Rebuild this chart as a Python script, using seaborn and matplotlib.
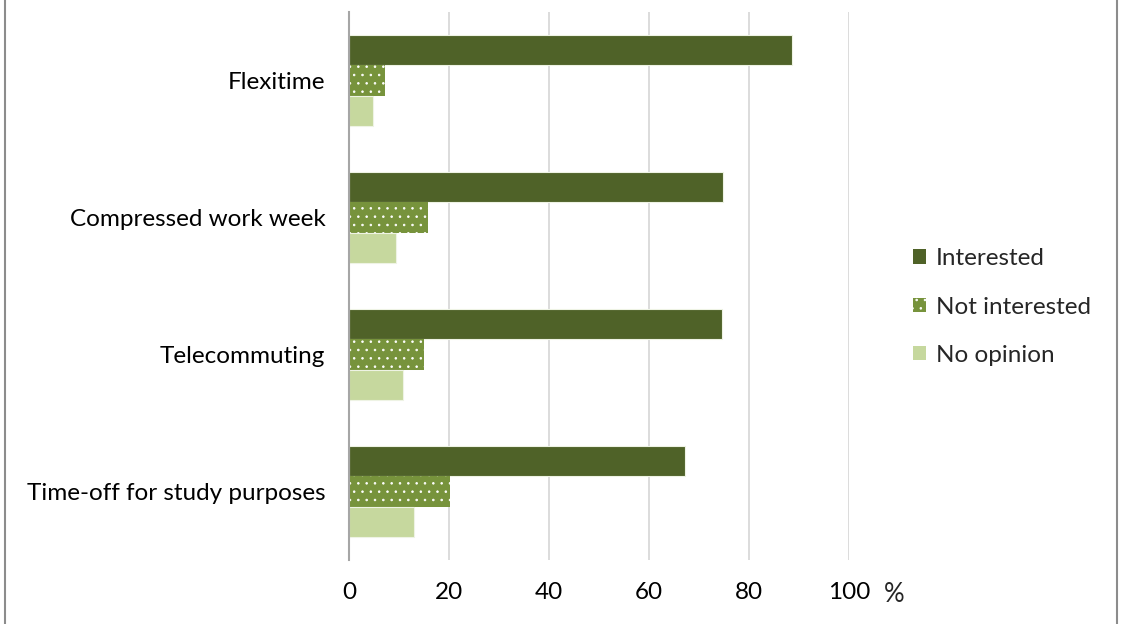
import matplotlib
matplotlib.use("Agg")
import matplotlib.pyplot as plt
import seaborn as sns
import pandas as pd
from matplotlib.patches import Rectangle, Patch

categories = ["Flexitime", "Compressed work week", "Telecommuting", "Time-off for study purposes"]
series = ["Interested", "Not interested", "No opinion"]
interested = [88.5, 74.8, 74.6, 67.2]
not_interested = [7.1, 15.8, 14.9, 20.1]
no_opinion = [4.8, 9.4, 10.8, 12.9]
x_ticks = [0, 20, 40, 60, 80, 100]
colors = ["#4F6228", "#77933C", "#C6D89E"]

sns.set_theme(style="white")
plt.rcParams["font.family"] = ["Lato", "DejaVu Sans"]
plt.rcParams["hatch.linewidth"] = 0.6

rows = []
for name, vals in zip(series, [interested, not_interested, no_opinion]):
    for cat, v in zip(categories, vals):
        rows.append({"category": cat, "series": name, "value": v})
df = pd.DataFrame(rows)

fs = 17.5
fig = plt.figure(figsize=(11.21, 6.24), dpi=100)
ax = fig.add_axes([349 / 1121, 1 - 560 / 624, 500 / 1121, 548 / 624])

sns.barplot(data=df, y="category", x="value", hue="series", order=categories,
            hue_order=series, palette=colors, orient="h", width=0.66,
            edgecolor="#EEF3E4", linewidth=0.8, saturation=1, legend=False, ax=ax)

# dotted fill for the "Not interested" bars
for patch in ax.containers[1]:
    patch.set_hatch("..")
    patch.set_edgecolor("white")
    patch.set_linewidth(0)

ax.set_xlim(0, 100)
ax.set_xticks(x_ticks)
ax.set_xticklabels([str(t) for t in x_ticks])
ax.set_xlabel("")
ax.set_ylabel("")
ax.grid(axis="x", color="#D6D6D6", linewidth=1.2)
ax.set_axisbelow(True)
for s in ["top", "right", "bottom"]:
    ax.spines[s].set_visible(False)
ax.spines["left"].set_color("#A6A6A6")
ax.spines["left"].set_linewidth(1.5)
ax.tick_params(axis="both", length=0, labelsize=fs, colors="black")
ax.tick_params(axis="y", pad=17)
ax.tick_params(axis="x", pad=16)

fig.text(884 / 1121, 1 - 594 / 624, "%", fontsize=fs + 1, va="center", ha="left")

handles = [Patch(facecolor=colors[0], edgecolor="none"),
           Patch(facecolor=colors[1], edgecolor="white", hatch="..", linewidth=0),
           Patch(facecolor=colors[2], edgecolor="none")]
fig.legend(handles, series, loc="center left",
           bbox_to_anchor=(903 / 1121, 1 - 307 / 624), frameon=False,
           fontsize=fs, handlelength=0.55, handleheight=0.55, handletextpad=0.4,
           labelspacing=1.12, borderaxespad=0)

# outer frame
fig.patches.append(Rectangle((5 / 1121, -0.05), 1112 / 1121, 1.1,
                             transform=fig.transFigure, fill=False,
                             edgecolor="#8C8C8C", linewidth=1.5))

fig.savefig("out.png", dpi=100)
